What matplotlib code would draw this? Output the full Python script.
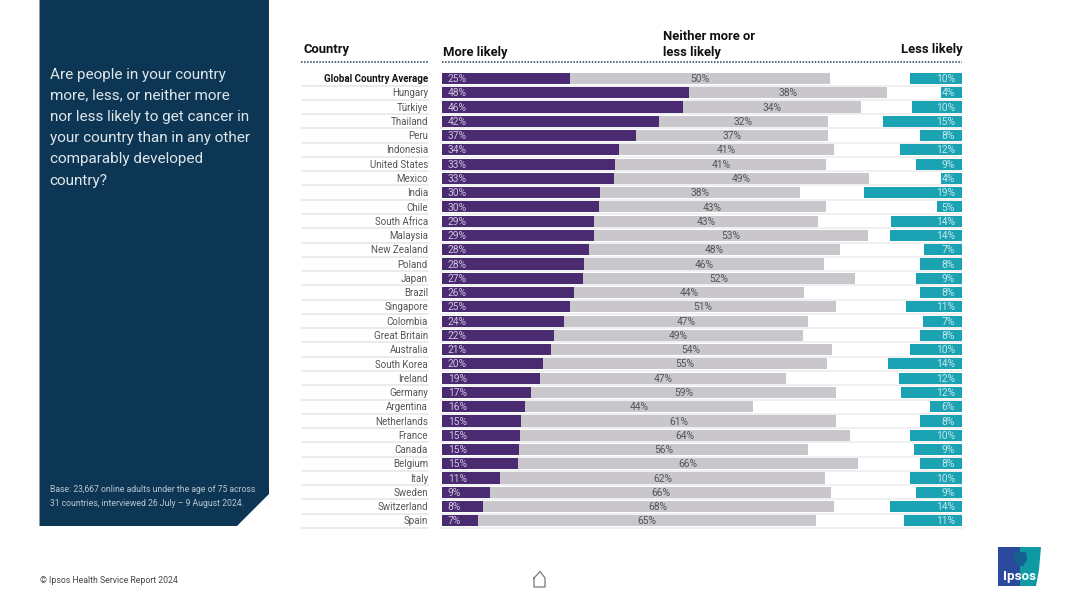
import matplotlib
matplotlib.use("Agg")
import matplotlib.pyplot as plt
from matplotlib.patches import Polygon

countries = ["Global Country Average", "Hungary", "Türkiye", "Thailand", "Peru", "Indonesia",
             "United States", "Mexico", "India", "Chile", "South Africa", "Malaysia", "New Zealand",
             "Poland", "Japan", "Brazil", "Singapore", "Colombia", "Great Britain", "Australia",
             "South Korea", "Ireland", "Germany", "Argentina", "Netherlands", "France", "Canada",
             "Belgium", "Italy", "Sweden", "Switzerland", "Spain"]
more_labels = [25, 48, 46, 42, 37, 34, 33, 33, 30, 30, 29, 29, 28, 28, 27, 26, 25, 24, 22, 21, 20, 19, 17, 16, 15, 15, 15, 15, 11, 9, 8, 7]
neither_labels = [50, 38, 34, 32, 37, 41, 41, 49, 38, 43, 43, 53, 48, 46, 52, 44, 51, 47, 49, 54, 55, 47, 59, 44, 61, 64, 56, 66, 62, 66, 68, 65]
less_labels = [10, 4, 10, 15, 8, 12, 9, 4, 19, 5, 14, 14, 7, 8, 9, 8, 11, 7, 8, 10, 14, 12, 12, 6, 8, 10, 9, 8, 10, 9, 14, 11]
more_vals = [24.9, 48.1, 46.9, 42.3, 37.8, 34.5, 33.7, 33.5, 30.7, 30.5, 29.6, 29.5, 28.6, 27.6, 27.4, 25.7, 24.9, 23.7, 21.8, 21.2, 19.6, 19.1, 17.3, 16.1, 15.4, 15.2, 15.0, 14.8, 11.3, 9.3, 8.0, 7.1]
neither_vals = [50.6, 38.5, 34.6, 32.7, 37.3, 41.7, 41.1, 49.6, 39.0, 44.3, 43.6, 53.4, 48.9, 46.8, 53.0, 44.7, 51.7, 47.5, 48.5, 54.6, 55.3, 47.8, 59.4, 44.4, 61.3, 64.2, 56.3, 66.1, 63.2, 66.4, 68.2, 65.7]
less_vals = [10.1, 4.1, 9.8, 15.4, 8.2, 12.0, 9.0, 4.1, 19.1, 4.9, 13.8, 14.0, 7.4, 8.2, 9.0, 8.2, 10.9, 7.6, 8.2, 10.1, 14.4, 12.3, 11.9, 6.2, 8.2, 10.1, 9.4, 8.2, 10.1, 9.0, 14.0, 11.3]
question = ["Are people in your country", "more, less, or neither more", "nor less likely to get cancer in",
            "your country than in any other", "comparably developed", "country?"]
base_note = ["Base: 23,667 online adults under the age of 75 across", "31 countries, interviewed 26 July – 9 August 2024."]

W, H = 1080, 607
plt.rcParams["font.family"] = ["Roboto", "DejaVu Sans"]
fig = plt.figure(figsize=(W / 100, H / 100), dpi=100, facecolor="white")

# pixel overlay for page furniture
bg = fig.add_axes([0, 0, 1, 1])
bg.set_xlim(0, W); bg.set_ylim(H, 0); bg.axis("off")
bg.add_patch(Polygon([(39.5, 0), (269, 0), (269, 494), (237, 526), (39.5, 526)], closed=True, fc="#0c3654", ec="none"))
for i, line in enumerate(question):
    bg.text(49.5, 74.5 + i * 21.2, line, color="#dfe6eb", fontsize=11.0, va="center", ha="left")
for i, line in enumerate(base_note):
    bg.text(49.5, 490 + i * 13, line, color="#b9c7d1", fontsize=6.25, va="center", ha="left")
bg.text(39.5, 580.5, "© Ipsos Health Service Report 2024", color="#444444", fontsize=6.3, va="center", ha="left")

# header
dot = dict(color="#1d3c5a", lw=1.1, ls=(0, (1, 1)))
bg.plot([301, 429], [62, 62], **dot)
bg.plot([442, 962], [62, 62], **dot)
hdr = dict(fontsize=9.4, fontweight="bold", color="#111111", va="center")
bg.text(303, 50, "Country", **hdr)
bg.text(443, 52.5, "More likely", **hdr)
bg.text(663, 36.5, "Neither more or", **hdr)
bg.text(663, 52.5, "less likely", **hdr)
bg.text(963, 49.5, "Less likely", ha="right", **hdr)

# row labels and rules
row0, step = 78.5, 14.27
for i, c in enumerate(countries):
    y = row0 + i * step
    bg.text(428, y + 0.6, c, fontsize=7.0, ha="right", va="center",
            color="#111111" if i == 0 else "#555555", fontweight="bold" if i == 0 else "normal")
    bg.plot([302, 428], [y + 7.1, y + 7.1], color="#e6e6e9", lw=1.1)
    bg.plot([440, 962], [y + 7.1, y + 7.1], color="#ececf0", lw=1.1)

# home icon
bg.plot([534, 534, 545, 545, 540, 534], [578, 587, 587, 578, 571.5, 578], color="#777777", lw=0.9)

# logo
bg.add_patch(Polygon([(998, 547), (1020, 547), (1020, 586), (998, 586)], fc="#2b4a9e", ec="none"))
bg.add_patch(Polygon([(1020, 547), (1041, 547), (1039, 570), (1036, 586), (1020, 586)], fc="#0f9aa3", ec="none"))
bg.add_patch(Polygon([(1015, 552), (1026, 552), (1027, 560), (1023, 566), (1018, 566), (1013, 560)], fc="#15608f", ec="none"))
bg.text(1019, 576.5, "Ipsos", color="white", fontsize=9.6, fontweight="bold", ha="center", va="center")

# bars
ax = fig.add_axes([442 / W, 1 - 530 / H, 520 / W, (530 - 71) / H])
ax.patch.set_alpha(0)
scale = 5.14
xmax = 520 / scale
ax.set_xlim(0, xmax)
ax.set_ylim((530 - row0) / step, (71 - row0) / step)
ax.axis("off")
ys = list(range(len(countries)))
ax.barh(ys, more_vals, height=0.78, color="#4a2a70")
ax.barh(ys, neither_vals, left=more_vals, height=0.78, color="#c9c7cb")
ax.barh(ys, less_vals, left=[xmax - v for v in less_vals], height=0.78, color="#1ba3b3")
for i in ys:
    ax.text(1.1, i + 0.04, f"{more_labels[i]}%", color="#cfc4dc", fontsize=7.4, va="center", ha="left")
    ax.text(more_vals[i] + neither_vals[i] / 2, i + 0.04, f"{neither_labels[i]}%", color="#555555",
            fontsize=7.4, va="center", ha="center")
    ax.text(xmax - 1.35, i + 0.04, f"{less_labels[i]}%", color="#c4e8ec", fontsize=7.4, va="center", ha="right")

fig.savefig("out.png", dpi=100)
